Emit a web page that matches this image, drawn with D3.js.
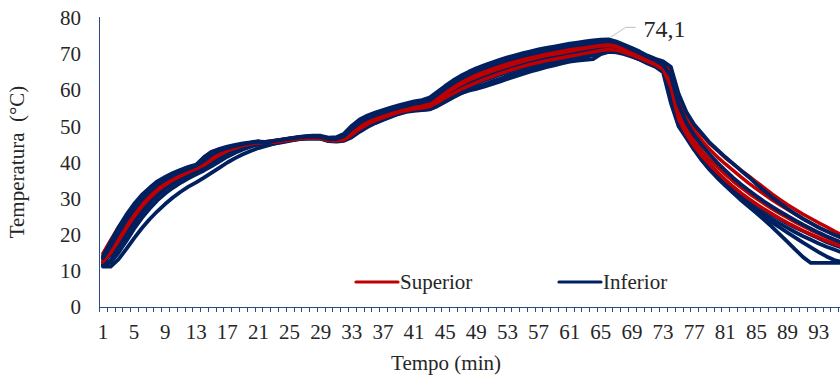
<!DOCTYPE html>
<html>
<head>
<meta charset="utf-8">
<script src="https://cdn.jsdelivr.net/npm/d3@7"></script>
<style>
  body { margin: 0; background: #fff; }
  svg { display: block; font-family: "Liberation Serif", "Times New Roman", serif; }
</style>
</head>
<body>
<svg id="chart" width="840" height="376"></svg>
<script>
// minutes 1..96 (the last ones run past the right edge, as in the original)
const tempo = d3.range(1, 97);
const xTickLabels = d3.range(1, 97, 4);
const yTicks = [0, 10, 20, 30, 40, 50, 60, 70, 80];

// Superior thermocouples
const superior = [
  [14.8, 18.5, 22, 25.2, 28.2, 30.7, 32.7, 34.4, 35.6, 36.6, 37.5, 38.3, 39.2, 41.5, 43, 43.6, 44.2, 44.6, 45, 45.3, 45.6,
   45.8, 46.1, 46.4, 46.7, 47, 47.2, 47.2, 47.1, 46.6, 46.5, 47, 48.9, 50.6, 51.8, 52.6, 53.4, 54.1, 54.8, 55.3, 55.8, 56.2, 56.8,
   58.3, 59.9, 61.3, 62.6, 63.7, 64.7, 65.5, 66.3, 67, 67.7, 68.3, 68.9, 69.4, 69.9, 70.3, 70.7, 71.1, 71.5, 71.8, 72.1, 72.4, 72.7, 72.9, 72.6, 71.9, 71, 70.1, 69.1, 68.2, 67.2, 65.5,
   58.5, 53.5, 50, 47.5, 45.2, 43.3, 41.3, 39.6, 37.9, 36.3, 34.6, 33, 31.3, 29.8, 28.3, 27, 25.7, 24.5, 23.3, 22.2, 21, 20],
  [14, 17, 20.5, 24, 27, 29.6, 31.8, 33.6, 35, 36.1, 37, 37.9, 38.7, 40.2, 41.9, 42.9, 43.7, 44.3, 44.8, 45.2, 45.5,
   45.5, 45.8, 46.1, 46.5, 46.8, 47, 47, 46.9, 46.3, 46.2, 46.7, 48.4, 50.2, 51.5, 52.3, 53.1, 53.8, 54.5, 55, 55.5, 55.9, 56.4,
   57.8, 59.4, 60.8, 62.1, 63.2, 64.2, 65, 65.8, 66.5, 67.2, 67.8, 68.4, 68.9, 69.4, 69.9, 70.3, 70.7, 71.1, 71.4, 71.7, 72, 72.3, 72.4, 72.1, 71.4, 70.5, 69.6, 68.6, 67.6, 66.7, 65,
   57.5, 52.5, 48.8, 46, 43.6, 41.5, 39.6, 37.8, 36, 34.3, 32.7, 31.2, 29.7, 28.3, 27, 25.7, 24.4, 23.2, 22, 21, 20, 19],
  [13.2, 16, 19.5, 23, 26.2, 29, 31.3, 33.2, 34.8, 36, 37, 38, 38.9, 40, 41.6, 42.8, 43.7, 44.4, 45, 45.4, 45.8,
   45.6, 45.9, 46.2, 46.5, 46.8, 47, 47.1, 47, 46.4, 46.3, 46.7, 48.3, 50, 51.3, 52.2, 53, 53.7, 54.4, 54.9, 55.3, 55.7, 56.2,
   57.5, 59, 60.4, 61.6, 62.7, 63.6, 64.5, 65.3, 66, 66.7, 67.4, 68, 68.6, 69.1, 69.6, 70, 70.4, 70.8, 71.2, 71.6, 72, 72.3, 72.5, 72.2, 71.4, 70.5, 69.6, 68.7, 67.7, 66.5, 63,
   54, 49.5, 46, 43.2, 40.8, 38.7, 36.7, 34.8, 33.1, 31.5, 30, 28.6, 27.2, 25.9, 24.7, 23.5, 22.4, 21.3, 20.3, 19.3, 18.4, 17.5],
  [12.5, 15, 18.3, 21.8, 25, 27.8, 30.2, 32.2, 33.8, 35.2, 36.3, 37.3, 38.3, 39.3, 40.8, 42.1, 43.2, 44, 44.7, 45.2, 45.6,
   45.4, 45.6, 45.9, 46.2, 46.5, 46.7, 46.8, 46.7, 46.1, 46, 46.3, 47.7, 49.3, 50.6, 51.6, 52.4, 53.2, 53.9, 54.4, 54.8, 55.1, 55.5,
   56.6, 57.9, 59.1, 60.2, 61.2, 62.1, 63, 63.8, 64.6, 65.3, 66, 66.6, 67.2, 67.7, 68.2, 68.6, 69, 69.4, 69.8, 70.2, 70.6, 71, 71.3, 71.1, 70.5, 69.7, 68.9, 68, 67, 65.8, 61,
   52, 47.8, 44.5, 41.8, 39.4, 37.2, 35.2, 33.3, 31.6, 30, 28.5, 27.1, 25.8, 24.5, 23.3, 22.2, 21.1, 20.1, 19.2, 18.3, 17.5, 16.7]
];

// Inferior thermocouples
const inferior = [
  [14, 18, 22, 25.5, 28.5, 31, 33, 34.8, 36, 37.1, 38, 38.8, 39.4, 41.5, 43, 43.8, 44.4, 44.9, 45.3, 45.6, 45.9,
   45.2, 46, 46.3, 46.7, 47, 47.3, 47.4, 47.4, 46.9, 47, 48, 50.2, 51.9, 53, 53.8, 54.5, 55.2, 55.8, 56.4, 56.9, 57.3, 58,
   59.6, 61.2, 62.7, 64, 65.1, 66.1, 66.9, 67.7, 68.4, 69.1, 69.7, 70.3, 70.8, 71.3, 71.7, 72.1, 72.5, 72.9, 73.2, 73.5, 73.8, 74, 74.1, 73.5, 72.6, 71.7, 70.7, 69.6, 68.7, 68, 66.5,
   59, 54, 50.5, 48, 45.5, 43.5, 41.5, 39.7, 37.8, 36, 34, 32.2, 30.4, 28.8, 27.2, 25.8, 24.4, 23.2, 22, 21, 20, 19.2],
  [13.5, 16.8, 20.5, 24, 27, 29.7, 31.9, 33.8, 35.2, 36.4, 37.4, 38.3, 39.1, 40.5, 42.2, 43.3, 44, 44.6, 45.1, 45.5, 45.8,
   45.7, 46, 46.3, 46.6, 46.9, 47.1, 47.2, 47.1, 46.5, 46.5, 47.3, 49.3, 51, 52.2, 53, 53.8, 54.5, 55.1, 55.7, 56.2, 56.6, 57.2,
   58.8, 60.4, 61.9, 63.2, 64.3, 65.3, 66.1, 66.9, 67.6, 68.3, 68.9, 69.5, 70, 70.5, 71, 71.4, 71.8, 72.2, 72.5, 72.8, 73.1, 73.4, 73.6, 73.2, 72.3, 71.3, 70.3, 69.3, 68.3, 67, 64,
   56, 51, 47.5, 44.7, 42.2, 39.9, 37.8, 35.8, 34, 32.3, 30.7, 29.2, 27.8, 26.5, 25.2, 24, 22.8, 21.7, 20.6, 19.6, 18.7, 17.8],
  [12.5, 14.5, 17.5, 21, 24.2, 27.2, 29.8, 32, 33.7, 35.1, 36.3, 37.3, 38.2, 39.2, 40.6, 41.9, 43, 43.9, 44.6, 45.1, 45.5,
   45.3, 45.7, 46, 46.4, 46.7, 46.9, 47, 46.9, 46.3, 46.2, 46.6, 48, 49.8, 51.1, 52, 52.8, 53.5, 54.2, 54.7, 55.1, 55.4, 55.9,
   57.1, 58.5, 59.8, 61, 62, 62.9, 63.8, 64.6, 65.4, 66.1, 66.8, 67.4, 68, 68.5, 69, 69.4, 69.8, 70.2, 70.6, 71, 71.4, 71.8, 72.1, 71.9, 71.2, 70.3, 69.3, 68.4, 67.5, 66.5, 62,
   53, 48.5, 45, 42, 39.5, 37.2, 35.1, 33.2, 31.4, 29.8, 28.3, 26.9, 25.6, 24.3, 23.1, 22, 21, 20, 19, 18, 17.2, 16.4],
  [11.8, 13, 16, 19.5, 23, 26, 28.6, 30.8, 32.6, 34.1, 35.4, 36.5, 37.5, 38.5, 39.8, 41.1, 42.3, 43.3, 44.1, 44.8, 45.3,
   45, 45.4, 45.8, 46.2, 46.5, 46.7, 46.8, 46.7, 46.1, 46, 46.3, 47.5, 49, 50.3, 51.3, 52.1, 52.9, 53.6, 54.2, 54.6, 54.9, 55.3,
   56.3, 57.6, 58.8, 59.9, 60.9, 61.8, 62.7, 63.5, 64.3, 65, 65.7, 66.3, 66.9, 67.5, 68, 68.5, 68.9, 69.3, 69.7, 70.1, 70.5, 71, 71.3, 71.3, 70.6, 69.7, 68.8, 67.9, 67, 66, 60,
   51.5, 47.5, 44, 41, 38.5, 36.2, 34.2, 32.3, 30.5, 28.8, 27.2, 25.8, 24.4, 23.1, 21.9, 20.7, 19.6, 18.6, 17.6, 16.7, 15.9, 15.1],
  [11.5, 12.3, 15, 18.2, 21.6, 24.6, 27.2, 29.5, 31.4, 33, 34.4, 35.6, 36.7, 37.8, 39, 40.3, 41.6, 42.7, 43.6, 44.4, 45,
   44.8, 45.2, 45.6, 46, 46.4, 46.6, 46.7, 46.6, 45.9, 45.8, 46, 47, 48.5, 49.8, 50.9, 51.8, 52.6, 53.4, 54, 54.3, 54.5, 54.7,
   55.6, 56.8, 58, 59.1, 60, 60.8, 61.6, 62.4, 63.2, 64, 64.7, 65.4, 66, 66.6, 67.1, 67.6, 68, 68.4, 68.8, 69.2, 69.7, 70.3, 70.8, 70.9, 70.3, 69.4, 68.5, 67.6, 66.7, 65.5, 57.5,
   50.5, 47, 43.7, 40.6, 38, 35.7, 33.6, 31.6, 29.8, 28, 26.3, 24.8, 23.4, 22, 20.6, 19.2, 17.8, 16.5, 15.2, 14, 13, 12.5],
  [11.2, 11.2, 13.2, 16, 19, 21.8, 24.3, 26.5, 28.5, 30.3, 31.9, 33.3, 34.5, 35.8, 37.2, 38.6, 40, 41.2, 42.3, 43.2, 44,
   44.6, 45.2, 45.7, 46.1, 46.4, 46.6, 46.7, 46.6, 46, 46, 46.2, 47.3, 48.8, 50, 51, 51.9, 52.8, 53.7, 54.3, 54.5, 54.6, 54.8,
   55.8, 57, 58.2, 59.2, 59.9, 60.4, 61, 61.7, 62.4, 63.1, 63.8, 64.5, 65.2, 65.8, 66.4, 66.9, 67.4, 67.9, 68.2, 68.4, 68.6, 70, 70.6, 70.5, 70, 69.3, 68.5, 67.4, 66.5, 65, 56.5,
   50, 46.8, 43.5, 40.6, 38, 35.8, 33.8, 31.7, 29.6, 27.8, 26, 24.1, 22.2, 20.1, 18, 15.9, 13.8, 12.2, 12.2, 12.2, 12.2, 12.2]
];

const peak = { tempo: 66, value: 74.1, label: "74,1" };

const RED = "#c00000";
const NAVY = "#002060";
const AXIS = "#2b4a86";
const TEXT = "#262626";

const svg = d3.select("#chart");
const plotLeft = 99, plotBottom = 307, plotTop = 18, step = 7.78;

const x = d3.scaleBand()
  .domain(tempo)
  .range([plotLeft, plotLeft + tempo.length * step]);
const cx = t => x(t) + x.bandwidth() / 2;

const y = d3.scaleLinear()
  .domain([0, 80])
  .range([plotBottom, plotTop]);

// y axis labels
const yAxis = svg.append("g")
  .attr("transform", `translate(${plotLeft},0)`)
  .call(d3.axisLeft(y).tickValues(yTicks).tickSize(0).tickPadding(18))
  .attr("font-family", null)
  .attr("font-size", 21);
yAxis.select(".domain").remove();
yAxis.selectAll("text").attr("fill", TEXT);

svg.append("line")
  .attr("x1", plotLeft + 0.5).attr("x2", plotLeft + 0.5)
  .attr("y1", y(80) - 1).attr("y2", y(0))
  .attr("stroke", AXIS).attr("stroke-width", 1);

// x axis labels
const xAxis = svg.append("g")
  .attr("transform", `translate(0,${plotBottom})`)
  .call(d3.axisBottom(x).tickValues(xTickLabels).tickSize(0).tickPadding(17))
  .attr("font-family", null)
  .attr("font-size", 21);
xAxis.select(".domain").remove();
xAxis.selectAll("text").attr("fill", TEXT);

// x axis line + ticks between categories
svg.append("line")
  .attr("x1", plotLeft).attr("x2", 840)
  .attr("y1", plotBottom + 0.5).attr("y2", plotBottom + 0.5)
  .attr("stroke", AXIS).attr("stroke-width", 1);

svg.append("g").selectAll("line")
  .data(tempo)
  .join("line")
  .attr("x1", d => Math.round(x(d)) + 0.5)
  .attr("x2", d => Math.round(x(d)) + 0.5)
  .attr("y1", plotBottom)
  .attr("y2", plotBottom + 5)
  .attr("stroke", AXIS)
  .attr("stroke-width", 1);

// axis titles
svg.append("text")
  .attr("transform", "translate(24,162) rotate(-90)")
  .attr("text-anchor", "middle")
  .attr("font-size", 21)
  .attr("fill", TEXT)
  .style("white-space", "pre")
  .text("Temperatura  (°C)");

svg.append("text")
  .attr("x", 446).attr("y", 370)
  .attr("text-anchor", "middle")
  .attr("font-size", 21)
  .attr("fill", TEXT)
  .text("Tempo (min)");

// lines: lower navy lines, then red, then the two upper navy lines
const line = d3.line()
  .x((d, i) => cx(tempo[i]))
  .y(d => y(d));

const series = [
  ...inferior.slice(2).map(v => ({ v, c: NAVY, w: 3.8 })),
  ...superior.map(v => ({ v, c: RED, w: 3.5 })),
  ...inferior.slice(0, 2).map(v => ({ v, c: NAVY, w: 3.8 }))
];

svg.append("g")
  .attr("fill", "none")
  .attr("stroke-linejoin", "round")
  .attr("stroke-linecap", "round")
  .selectAll("path")
  .data(series)
  .join("path")
  .attr("d", d => line(d.v))
  .attr("stroke", d => d.c)
  .attr("stroke-width", d => d.w);

// peak annotation
const px = cx(peak.tempo), py = y(peak.value);
svg.append("polyline")
  .attr("points", [[px + 2, py - 2], [px + 17, py - 12], [px + 27, py - 12]].join(" "))
  .attr("fill", "none")
  .attr("stroke", "#bfbfbf")
  .attr("stroke-width", 1);
svg.append("text")
  .attr("x", px + 35).attr("y", py - 2)
  .attr("font-size", 24)
  .attr("fill", TEXT)
  .text(peak.label);

// legend
const legend = [
  { name: "Superior", color: RED, x: 355 },
  { name: "Inferior", color: NAVY, x: 558 }
];
const lg = svg.append("g").selectAll("g")
  .data(legend)
  .join("g")
  .attr("transform", d => `translate(${d.x},282)`);
lg.append("line")
  .attr("x1", 1).attr("x2", 43)
  .attr("stroke", d => d.color)
  .attr("stroke-width", 3.2)
  .attr("stroke-linecap", "round");
lg.append("text")
  .attr("x", 45).attr("y", 7)
  .attr("font-size", 21)
  .attr("fill", TEXT)
  .text(d => d.name);
</script>
</body>
</html>
